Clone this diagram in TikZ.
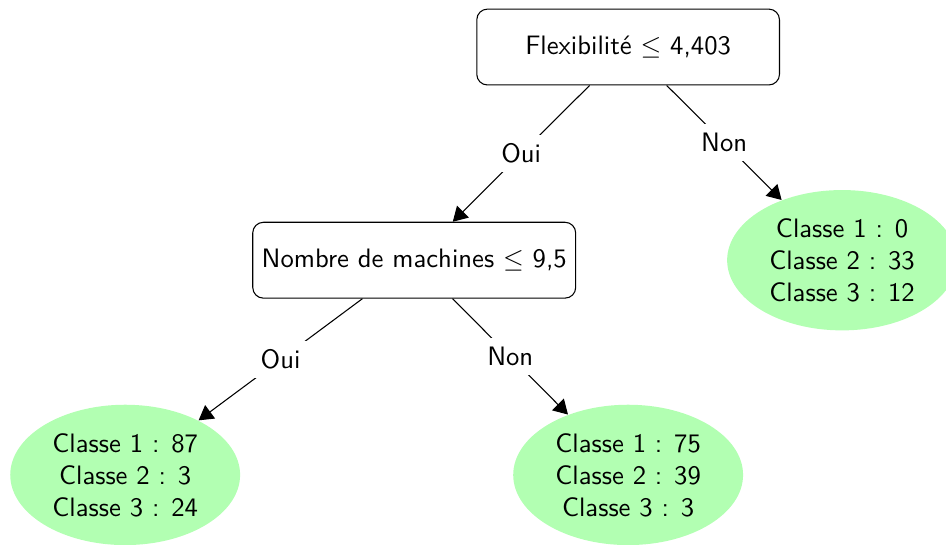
\documentclass[tikz,border=0pt]{standalone}
\usepackage{amsmath, % equations
      amssymb,
      tikz }
\usetikzlibrary{arrows.meta,positioning,shapes.geometric}

\begin{document}
\begin{tikzpicture}[font=\sffamily,
    decision/.style={draw, rounded corners, minimum height=1cm},
    leaf/.style={ellipse, fill=green!30, align=center, inner sep=0pt, minimum width=3.03cm, minimum height=1.85cm},
    branch/.style={-{Triangle[scale=1.5]}}]
  \useasboundingbox (0,0) rectangle (12.47,7.18);
  \node[decision, minimum width=3.99cm] (flex) at (8.28,6.56) {Flexibilité $\leq$ 4,403};
  \node[decision, minimum width=4.24cm] (machines) at (5.46,3.75) {Nombre de machines $\leq$ 9,5};
  \node[leaf] (leafA) at (11.10,3.75) {Classe 1 : 0\\ Classe 2 : 33\\ Classe 3 : 12};
  \node[leaf] (leafB) at (1.65,0.92) {Classe 1 : 87\\ Classe 2 : 3\\ Classe 3 : 24};
  \node[leaf] (leafC) at (8.28,0.92) {Classe 1 : 75\\ Classe 2 : 39\\ Classe 3 : 3};
  \draw[branch] (flex) -- node[midway, fill=white] {Oui} (machines);
  \draw[branch] (flex) -- node[midway, fill=white] {Non} (leafA);
  \draw[branch] (machines) -- node[midway, fill=white] {Oui} (leafB);
  \draw[branch] (machines) -- node[midway, fill=white] {Non} (leafC);
\end{tikzpicture}
\end{document}
